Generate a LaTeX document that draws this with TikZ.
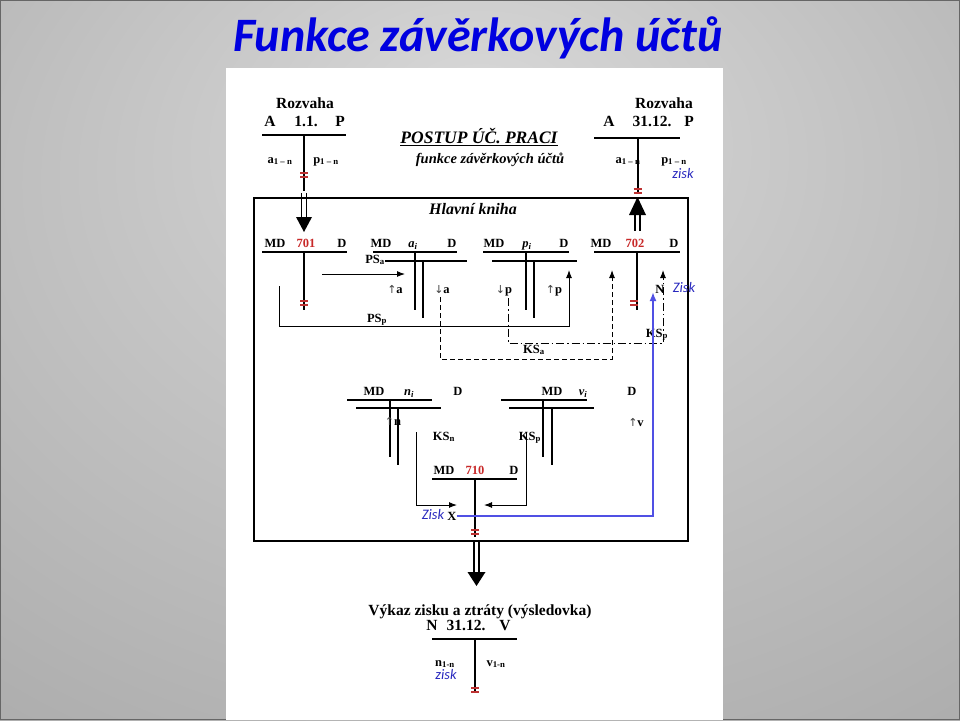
\documentclass[tikz,border=0pt]{standalone}
\usepackage{fontspec}
\setmainfont{Liberation Serif}
\newfontfamily\titlefont{Carlito}
\newfontfamily\arrfont{DejaVu Sans}
\usetikzlibrary{arrows.meta}
\definecolor{ttl}{RGB}{0,0,224}
\definecolor{bgin}{RGB}{216,216,216}
\definecolor{bgout}{RGB}{140,140,140}
\definecolor{redn}{RGB}{200,40,40}
\definecolor{eqred}{RGB}{190,50,50}
\definecolor{ziskc}{RGB}{40,40,190}
\definecolor{bluel}{RGB}{80,80,228}
\pgfdeclareradialshading{bgshade}{\pgfpoint{0bp}{18bp}}{color(0bp)=(bgin); color(74bp)=(bgout)}
\newcommand\uparr{{\arrfont\mdseries\color{black!75}\fontsize{11}{12}\selectfont ↑}}
\newcommand\dnarr{{\arrfont\mdseries\color{black!75}\fontsize{11}{12}\selectfont ↓}}
\begin{document}
\begin{tikzpicture}[x=1pt,y=-1pt,
  hd/.style={inner sep=0pt,text height=8.2pt,text depth=0pt,font=\bfseries\fontsize{12.5}{14}\selectfont},
  bg/.style={inner sep=0pt,text height=10.3pt,text depth=0pt,font=\bfseries\fontsize{15.5}{17}\selectfont},
  sb/.style={hd},
  it/.style={hd,font=\bfseries\itshape\fontsize{12.5}{14}\selectfont},
  rd/.style={hd,text=redn},
  zis/.style={inner sep=0pt,text height=7.5pt,text depth=0pt,text=ziskc,font=\titlefont\itshape\fontsize{14.5}{16}\selectfont},
  tl/.style={line width=2pt},
  bx/.style={line width=1.5pt},
  cn/.style={line width=1pt,-{Latex[length=8pt,width=6pt]}},
  dsh/.style={cn,dash pattern=on 5pt off 3pt},
  dd/.style={cn,dash pattern=on 8pt off 3pt on 1.5pt off 3pt},
  eqm/.pic={\draw[eqred,line width=1.3pt] (-4,-2)--(4,-2) (-4,2)--(4,2);}
]
\useasboundingbox (0,0) rectangle (960,720);
% background
\shade[shading=bgshade] (0,0) rectangle (960,720);
\draw[line width=1pt,black!60] (0.5,0.5) rectangle (959.5,719.5);
\node[inner sep=0pt,anchor=base,text=ttl,font=\titlefont\bfseries\itshape\fontsize{48}{52}\selectfont] (title) at (478,51) {Funkce závěrkových účtů};
\fill[white] (226,68) rectangle (723,720);

% ---------- top left Rozvaha
\node[bg] (rz1) at (305,103) {Rozvaha};
\node[bg] (rz1A) at (270,121) {A};
\node[bg] (rz1d) at (306,121) {1.1.};
\node[bg] (rz1P) at (340,121) {P};
\draw[tl] (262,135) -- (346,135);
\draw[tl] (304,135) -- (304,191);
\node[sb] (rz1a) at (280,159) {a\textsubscript{1 – n}};
\node[sb] (rz1p) at (326,159) {p\textsubscript{1 – n}};
\pic at (304,175) {eqm};
\draw[line width=1.2pt] (301.5,193) -- (301.5,217) (306.5,193) -- (306.5,217);
\fill (296,217) -- (312,217) -- (304,232) -- cycle;

% ---------- top right Rozvaha
\node[bg] (rz2) at (664,103) {Rozvaha};
\node[bg] (rz2A) at (609,121) {A};
\node[bg] (rz2d) at (652,121) {31.12.};
\node[bg] (rz2P) at (689,121) {P};
\draw[tl] (594,138) -- (680,138);
\draw[tl] (637.5,138) -- (637.5,192);
\node[sb] (rz2a) at (628,159) {a\textsubscript{1 – n}};
\node[sb] (rz2p) at (674,159) {p\textsubscript{1 – n}};
\node[zis] (rz2z) at (683,175) {zisk};
\pic at (637.5,191) {eqm};
\fill (629,215) -- (646,215) -- (637.5,197) -- cycle;
\draw[line width=1.2pt] (635,215) -- (635,231) (640,215) -- (640,231);

% ---------- headings
\node[inner sep=0pt,text height=12pt,text depth=0pt,font=\bfseries\itshape\fontsize{17.5}{19}\selectfont] (post) at (479,137) {POSTUP ÚČ. PRACI};
\draw[line width=1pt] ([yshift=-2.5pt]post.south west) -- ([yshift=-2.5pt]post.south east);
\node[inner sep=0pt,text height=9pt,text depth=0pt,font=\bfseries\itshape\fontsize{14.5}{16}\selectfont] (fz) at (490,159) {funkce závěrkových účtů};

% ---------- Hlavni kniha box
\draw[bx] (254,198) rectangle (688,541);
\node[inner sep=0pt,text height=11pt,text depth=0pt,font=\bfseries\itshape\fontsize{16}{18}\selectfont] (hk) at (473,209) {Hlavní kniha};

% account 701
\node[hd] (h1md) at (275,243) {MD};
\node[rd] (h1n) at (306,243) {701};
\node[hd] (h1d) at (342,243) {D};
\draw[tl] (262,252) -- (347,252);
\draw[tl] (304,252) -- (304,310);
\pic at (304,303) {eqm};

% account a_i
\node[hd] (h2md) at (381,243) {MD};
\node[it] (h2n) at (413,243) {a\textsubscript{i}};
\node[hd] (h2d) at (452,243) {D};
\draw[tl] (373,252) -- (457,252);
\draw[tl] (385,261) -- (467,261);
\draw[tl] (415,252) -- (415,310);
\draw[tl] (423,261) -- (423,318);
\node[sb] (psa) at (375,259) {PS\textsubscript{a}};
\node[sb] (psp) at (377,318) {PS\textsubscript{p}};
\node[sb] (upa) at (395,289) {\uparr a};
\node[sb] (dna) at (442,289) {\dnarr a};
\coordinate (psa1) at (322,274);
\coordinate (psa2) at (405,274);
\draw[cn] (psa1) -- (psa2);

% account p_i
\node[hd] (h3md) at (494,243) {MD};
\node[it] (h3n) at (527,243) {p\textsubscript{i}};
\node[hd] (h3d) at (564,243) {D};
\draw[tl] (483,252) -- (569,252);
\draw[tl] (492,261) -- (577,261);
\draw[tl] (526,252) -- (526,310);
\draw[tl] (534,261) -- (534,318);
\node[sb] (dnp) at (504,289) {\dnarr p};
\node[sb] (upp) at (554,289) {\uparr p};
\coordinate (pp1) at (279,286);
\coordinate (pp2) at (569,270);
\draw[cn] (pp1) |- (569,326) -- (pp2);

% account 702
\node[hd] (h4md) at (601,243) {MD};
\node[rd] (h4n) at (635,243) {702};
\node[hd] (h4d) at (674,243) {D};
\draw[tl] (594,252) -- (680,252);
\draw[tl] (637,252) -- (637,310);
\pic at (634,303) {eqm};

% KS connectors
\coordinate (ka1) at (440,297);
\coordinate (ka2) at (612,270);
\draw[dsh] (ka1) |- (612,359) -- (ka2);
\coordinate (kp1) at (508,298);
\coordinate (kp2) at (663,270);
\draw[dd] (kp1) |- (663,343) -- (kp2);
\node[sb] (ksa) at (534,349) {KS\textsubscript{a}};
\node[sb] (ksp) at (657,333) {KS\textsubscript{p}};
\node[hd] (nn) at (660,289) {N};
\node[zis] (zz) at (684,289) {Zisk};

% account n_i
\node[hd] (h5md) at (374,391) {MD};
\node[it] (h5n) at (409,391) {n\textsubscript{i}};
\node[hd] (h5d) at (458,391) {D};
\draw[tl] (347,400) -- (432,400);
\draw[tl] (356,408) -- (441,408);
\draw[tl] (390,400) -- (390,457);
\draw[tl] (398,408) -- (398,465);
\node[sb] (upn) at (393,421) {\uparr n};
\node[sb] (ksn) at (444,436) {KS\textsubscript{n}};

% account v_i
\node[hd] (h6md) at (552,391) {MD};
\node[it] (h6n) at (583,391) {v\textsubscript{i}};
\node[hd] (h6d) at (632,391) {D};
\draw[tl] (501,400) -- (587,400);
\draw[tl] (509,408) -- (594,408);
\draw[tl] (543,400) -- (543,457);
\draw[tl] (552,408) -- (552,465);
\node[sb] (upv) at (636,422) {\uparr v};
\node[sb] (ksv) at (530,436) {KS\textsubscript{p}};

% account 710
\node[hd] (h7md) at (444,470) {MD};
\node[rd] (h7n) at (475,470) {710};
\node[hd] (h7d) at (514,470) {D};
\draw[tl] (432,479) -- (517,479);
\draw[tl] (475,479) -- (475,537);
\pic at (475,532) {eqm};
\coordinate (kn1) at (416,432);
\coordinate (kn2) at (457,505);
\draw[cn] (kn1) |- (kn2);
\coordinate (kv1) at (526,432);
\coordinate (kv2) at (484,505);
\draw[cn] (kv1) |- (kv2);
\node[zis] (zx) at (433,516) {Zisk};
\node[hd] (xx) at (452,516) {X};
\coordinate (bz2) at (653,292);
\draw[bluel,line width=2pt,-{Latex[length=9pt,width=7pt]}] (xx.east) -- (653,516) -- (bz2);

% bottom arrow
\draw[line width=1.2pt] (474,541) -- (474,572) (479,541) -- (479,572);
\fill (467.5,572) -- (485.5,572) -- (476.5,586) -- cycle;

% Vykaz
\node[bg] (vz) at (480,610) {Výkaz zisku a ztráty (výsledovka)};
\node[bg] (vzN) at (432,625) {N};
\node[bg] (vzd) at (466,625) {31.12.};
\node[bg] (vzV) at (505,625) {V};
\draw[tl] (432,639) -- (517,639);
\draw[tl] (475,639) -- (475,693);
\node[sb] (vzn) at (445,662) {n\textsubscript{1-n}};
\node[zis] (vzz) at (446,676) {zisk};
\node[sb] (vzv) at (496,662) {v\textsubscript{1-n}};
\pic at (475,690) {eqm};
\end{tikzpicture}
\end{document}
